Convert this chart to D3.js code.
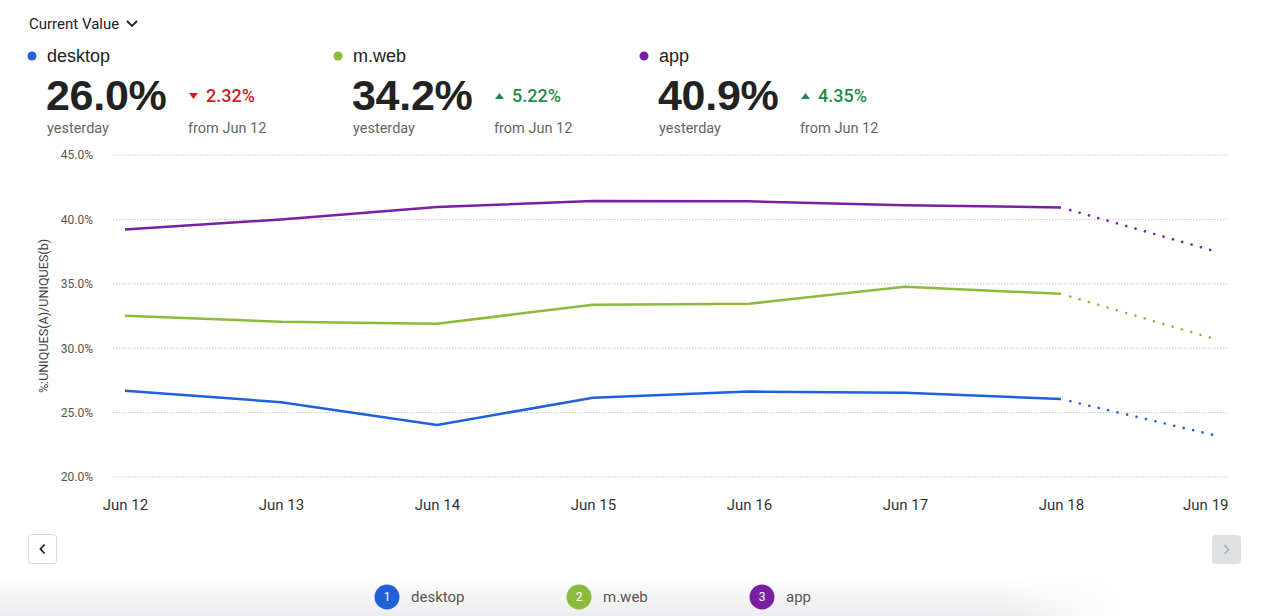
<!DOCTYPE html>
<html>
<head>
<meta charset="utf-8">
<script src="https://cdn.jsdelivr.net/npm/d3@7"></script>
<style>
  html, body { margin: 0; padding: 0; background: #fff; }
  svg { display: block; }
</style>
</head>
<body>
<svg id="chart" viewBox="0 0 1280 616" width="1280" height="616"></svg>
<script>
// data
const dates = ["Jun 12", "Jun 13", "Jun 14", "Jun 15", "Jun 16", "Jun 17", "Jun 18", "Jun 19"]
const seriesNames = ["desktop", "m.web", "app"]
const seriesColors = ["#2060d8", "#8cbb3b", "#7b1fa2"]
const desktopValues = [26.7, 25.81, 24.03, 26.16, 26.63, 26.55, 26.05, 23.2]
const mwebValues = [32.52, 32.05, 31.9, 33.37, 33.45, 34.77, 34.22, 30.66]
const appValues = [39.22, 40.0, 40.97, 41.43, 41.4, 41.09, 40.93, 37.48]
const headlineValues = ["26.0%", "34.2%", "40.9%"]
const deltaValues = [-2.32, 5.22, 4.35]
const yTicks = [20, 25, 30, 35, 40, 45]

const allValues = [desktopValues, mwebValues, appValues]

const svg = d3.select("#chart")
const width = parseInt(svg.attr("viewBox").split(' ')[2])
const height = parseInt(svg.attr("viewBox").split(' ')[3])

const sans = "Roboto, 'Noto Sans', sans-serif"
const head = "'Liberation Sans', Arial, sans-serif"

// bottom fade
const defs = svg.append("defs")
const grad = defs.append("linearGradient").attr("id", "fade")
    .attr("x1", 0).attr("y1", 0).attr("x2", 0).attr("y2", 1)
grad.append("stop").attr("offset", "0%").attr("stop-color", "#ffffff")
grad.append("stop").attr("offset", "100%").attr("stop-color", "#ececee")
const gradH = defs.append("linearGradient").attr("id", "fadeH")
    .attr("x1", 0).attr("y1", 0).attr("x2", 1).attr("y2", 0)
gradH.append("stop").attr("offset", "0%").attr("stop-color", "#fff").attr("stop-opacity", 0)
gradH.append("stop").attr("offset", "100%").attr("stop-color", "#fff").attr("stop-opacity", 1)
svg.append("rect").attr("x", 0).attr("y", 576).attr("width", width).attr("height", 40)
    .attr("fill", "url(#fade)")
svg.append("rect").attr("x", 1000).attr("y", 576).attr("width", 120).attr("height", 40)
    .attr("fill", "url(#fadeH)")
svg.append("rect").attr("x", 1120).attr("y", 576).attr("width", 160).attr("height", 40)
    .attr("fill", "#fff")

// header: "Current Value" dropdown
svg.append("text").attr("x", 29).attr("y", 29)
    .attr("font-family", sans).attr("font-size", 15).attr("fill", "#222")
    .text("Current Value")
svg.append("path").attr("d", "M127,21 L132,26 L137,21")
    .attr("fill", "none").attr("stroke", "#222").attr("stroke-width", 1.8)

// summary cards
const card = svg.append("g").selectAll("g")
    .data(seriesNames)
    .enter()
    .append("g")
    .attr("transform", (d, i) => `translate(${i * 306},0)`)

card.append("circle").attr("cx", 32).attr("cy", 56).attr("r", 4.5)
    .attr("fill", (d, i) => seriesColors[i])
card.append("text").attr("x", 47).attr("y", 62)
    .attr("font-family", head).attr("font-size", 18).attr("fill", "#222")
    .text(d => d)
card.append("text").attr("x", 46).attr("y", 110)
    .attr("font-family", head).attr("font-size", 43).attr("font-weight", 700)
    .attr("fill", "#222").attr("letter-spacing", -0.3)
    .text((d, i) => headlineValues[i])
card.append("text").attr("x", 47).attr("y", 133)
    .attr("font-family", sans).attr("font-size", 14.5).attr("fill", "#666")
    .text("yesterday")
card.append("text").attr("x", 188).attr("y", 133)
    .attr("font-family", sans).attr("font-size", 14.5).attr("fill", "#666")
    .text("from " + dates[0])
card.append("path")
    .attr("d", (d, i) => deltaValues[i] < 0 ? "M189,93 L198,93 L193.5,99 Z" : "M189,99 L198,99 L193.5,93 Z")
    .attr("fill", (d, i) => deltaValues[i] < 0 ? "#cc1f1f" : "#1f8a4c")
card.append("text").attr("x", 206).attr("y", 102)
    .attr("font-family", sans).attr("font-size", 18).attr("font-weight", 500)
    .attr("fill", (d, i) => deltaValues[i] < 0 ? "#cc1f1f" : "#1f8a4c")
    .text((d, i) => Math.abs(deltaValues[i]).toFixed(2) + "%")

// chart area
const x = d3.scalePoint().domain(dates).range([125, 1217])
const y = d3.scaleLinear().domain([20, 45]).range([477, 155])

const grid = svg.append("g")
grid.selectAll("line").data(yTicks).enter().append("line")
    .attr("x1", 113).attr("x2", 1228)
    .attr("y1", d => y(d)).attr("y2", d => y(d))
    .attr("stroke", "#c8c8c8").attr("stroke-width", 1).attr("stroke-dasharray", "1.5,1.5")

const yAxis = svg.append("g").attr("transform", "translate(96,0)")
    .call(d3.axisLeft(y).tickValues(yTicks).tickSize(0).tickFormat(d => d.toFixed(1) + "%"))
yAxis.select(".domain").remove()
yAxis.selectAll("text").attr("font-family", sans).attr("font-size", 12).attr("fill", "#555").attr("dy", "0.32em")

const xAxis = svg.append("g").attr("transform", "translate(0,496)")
    .call(d3.axisBottom(x).tickSize(0))
xAxis.select(".domain").remove()
xAxis.selectAll("text").attr("font-family", sans).attr("font-size", 15).attr("fill", "#333").attr("dy", "0.71em")
xAxis.selectAll(".tick").filter(d => d === dates[dates.length - 1]).select("text")
    .attr("text-anchor", "end").attr("dx", 11)

svg.append("text")
    .attr("transform", "translate(48,316) rotate(-90)")
    .attr("text-anchor", "middle")
    .attr("font-family", sans).attr("font-size", 12.6).attr("fill", "#444")
    .text("%:UNIQUES(A)/UNIQUES(b)")

const line = d3.line().x((d, i) => x(dates[i])).y(d => y(d))
const lastIdx = dates.length - 2

const lines = svg.append("g")
allValues.forEach((vals, s) => {
    lines.append("path")
        .datum(vals.slice(0, lastIdx + 1))
        .attr("d", line)
        .attr("fill", "none").attr("stroke", seriesColors[s]).attr("stroke-width", 2.5)
        .attr("stroke-linejoin", "round")
    // last day is still in progress: dotted
    lines.append("path")
        .datum(vals)
        .attr("d", d3.line()
            .defined((d, i) => i >= lastIdx)
            .x((d, i) => x(dates[i])).y(d => y(d)))
        .attr("fill", "none").attr("stroke", seriesColors[s]).attr("stroke-width", 2.6)
        .attr("stroke-linecap", "round").attr("stroke-dasharray", "0.1,9.6")
        .attr("stroke-dashoffset", -9.6)
})

// nav buttons
svg.append("rect").attr("x", 28.5).attr("y", 534.5).attr("width", 28).attr("height", 29).attr("rx", 3)
    .attr("fill", "#fff").attr("stroke", "#d6d6d9")
svg.append("path").attr("d", "M44.5,544.5 L40.5,549 L44.5,553.5")
    .attr("fill", "none").attr("stroke", "#222").attr("stroke-width", 1.8)
svg.append("rect").attr("x", 1212).attr("y", 535).attr("width", 29).attr("height", 29).attr("rx", 4)
    .attr("fill", "#dfe0e4")
svg.append("path").attr("d", "M1224.5,545 L1228.5,549.5 L1224.5,554")
    .attr("fill", "none").attr("stroke", "#a9abb0").attr("stroke-width", 1.3)

// bottom legend
const legendX = [387, 579, 762]
const legend = svg.append("g").selectAll("g")
    .data(seriesNames)
    .enter()
    .append("g")
    .attr("transform", (d, i) => `translate(${legendX[i]},597)`)
legend.append("circle").attr("r", 12.5).attr("fill", (d, i) => seriesColors[i])
legend.append("text").attr("text-anchor", "middle").attr("dy", "0.35em")
    .attr("font-family", sans).attr("font-size", 12).attr("fill", "#fff")
    .text((d, i) => i + 1)
legend.append("text").attr("x", 24).attr("dy", "0.35em")
    .attr("font-family", sans).attr("font-size", 15).attr("fill", "#555")
    .text(d => d)
</script>
</body>
</html>
